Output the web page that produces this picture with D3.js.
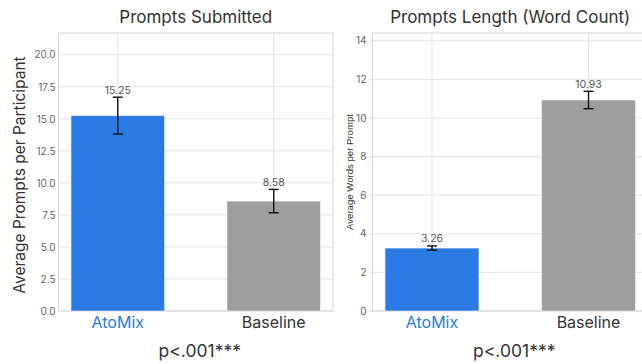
<!DOCTYPE html>
<html>
<head>
<meta charset="utf-8">
<script src="https://cdn.jsdelivr.net/npm/d3@7"></script>
<style>
  body { margin: 0; background: #fff; }
  svg { display: block; font-family: Inter, "Open Sans", sans-serif; }
</style>
</head>
<body>
<svg id="chart" width="642" height="364"></svg>
<script>
const groups = ["AtoMix", "Baseline"]
const groupColors = ["#2c7be5", "#9e9e9e"]
const labelColors = ["#2c7be5", "#333333"]

const promptsMean = [15.25, 8.58]
const promptsErr = [1.44, 0.91]
const promptsTicks = [0, 2.5, 5, 7.5, 10, 12.5, 15, 17.5, 20]

const lengthMean = [3.26, 10.93]
const lengthErr = [0.11, 0.45]
const lengthTicks = [0, 2, 4, 6, 8, 10, 12, 14]

const panels = [
  {
    title: "Prompts Submitted",
    yTitle: "Average Prompts per Participant",
    yTitleSize: 15.5, yTitleFont: "Inter, sans-serif", yTitleX: 19, yTitleShift: 3,
    mean: promptsMean, err: promptsErr, ticks: promptsTicks, yMax: 21.7,
    fmt: d3.format(".1f"), tickLen: 0,
    x0: 58.5, x1: 333, pvalue: "p<.001***"
  },
  {
    title: "Prompts Length (Word Count)",
    yTitle: "Average Words per Prompt",
    yTitleSize: 9.6, yTitleFont: "'Liberation Sans', Arial, sans-serif", yTitleX: 349, yTitleShift: 0,
    mean: lengthMean, err: lengthErr, ticks: lengthTicks, yMax: 14.4,
    fmt: d3.format("d"), tickLen: 3,
    x0: 372.5, x1: 648, pvalue: "p<.001***"
  }
]

const plotTop = 33, plotBottom = 311
const svg = d3.select("#chart")

panels.forEach(p => {
  const g = svg.append("g")

  const x = d3.scaleBand()
    .domain(groups)
    .range([p.x0, p.x1])
    .paddingInner(0.4)
    .paddingOuter(0.08)

  const y = d3.scaleLinear()
    .domain([0, p.yMax])
    .range([plotBottom, plotTop])

  // grid
  g.append("g")
    .selectAll("line")
    .data(p.ticks)
    .join("line")
    .attr("x1", p.x0).attr("x2", p.x1)
    .attr("y1", d => y(d)).attr("y2", d => y(d))
    .attr("stroke", "#e3e3e3")
    .attr("stroke-width", 1)

  g.append("g")
    .selectAll("line")
    .data(groups)
    .join("line")
    .attr("x1", d => x(d) + x.bandwidth() / 2)
    .attr("x2", d => x(d) + x.bandwidth() / 2)
    .attr("y1", plotTop).attr("y2", plotBottom)
    .attr("stroke", "#e3e3e3")

  // frame
  g.append("rect")
    .attr("x", p.x0).attr("y", plotTop)
    .attr("width", p.x1 - p.x0).attr("height", plotBottom - plotTop)
    .attr("fill", "none")
    .attr("stroke", "#d6d6d6")

  // bars
  g.append("g")
    .selectAll("rect")
    .data(groups)
    .join("rect")
    .attr("x", d => x(d))
    .attr("y", (d, i) => y(p.mean[i]))
    .attr("width", x.bandwidth())
    .attr("height", (d, i) => y(0) - y(p.mean[i]))
    .attr("fill", (d, i) => groupColors[i])
    .attr("stroke", "#ffffff")
    .attr("stroke-opacity", 0.55)
    .attr("stroke-width", 1)

  // error bars
  const eb = g.append("g")
    .attr("stroke", "#111")
    .attr("stroke-width", 1.4)
  groups.forEach((d, i) => {
    const cx = x(d) + x.bandwidth() / 2
    const hi = y(p.mean[i] + p.err[i]), lo = y(p.mean[i] - p.err[i])
    eb.append("line").attr("x1", cx).attr("x2", cx).attr("y1", hi).attr("y2", lo)
    eb.append("line").attr("x1", cx - 5).attr("x2", cx + 5).attr("y1", hi).attr("y2", hi)
    eb.append("line").attr("x1", cx - 5).attr("x2", cx + 5).attr("y1", lo).attr("y2", lo)
  })

  // value labels
  g.append("g")
    .selectAll("text")
    .data(groups)
    .join("text")
    .attr("x", d => x(d) + x.bandwidth() / 2)
    .attr("y", (d, i) => y(p.mean[i] + p.err[i]) - 3.5)
    .attr("text-anchor", "middle")
    .attr("font-size", 10.5)
    .attr("fill", "#555")
    .text((d, i) => p.mean[i].toFixed(2))

  // y axis
  const yAxis = g.append("g")
    .attr("transform", `translate(${p.x0},0)`)
    .call(d3.axisLeft(y).tickValues(p.ticks).tickFormat(p.fmt)
      .tickSize(p.tickLen).tickPadding(3))
  yAxis.select(".domain").remove()
  yAxis.selectAll("line").attr("stroke", "#d6d6d6")
  yAxis.selectAll("text")
    .attr("font-family", "Inter, sans-serif")
    .attr("font-size", 10)
    .attr("fill", "#666")

  // x axis labels
  const xAxis = g.append("g")
    .attr("transform", `translate(0,${plotBottom})`)
    .call(d3.axisBottom(x).tickSize(0).tickPadding(6))
  xAxis.select(".domain").remove()
  xAxis.selectAll("text")
    .attr("font-family", "Inter, sans-serif")
    .attr("font-size", 16)
    .attr("fill", (d, i) => labelColors[i])

  // titles
  const cx = (p.x0 + p.x1) / 2
  g.append("text")
    .attr("x", cx).attr("y", 23)
    .attr("text-anchor", "middle")
    .attr("font-size", 17)
    .attr("fill", "#333")
    .text(p.title)

  g.append("text")
    .attr("x", cx + 4).attr("y", 357)
    .attr("text-anchor", "middle")
    .attr("font-size", 17.5)
    .attr("fill", "#333")
    .text(p.pvalue)

  g.append("text")
    .attr("transform", `translate(${p.yTitleX},${(plotTop + plotBottom) / 2 + p.yTitleShift}) rotate(-90)`)
    .attr("text-anchor", "middle")
    .attr("dominant-baseline", "central")
    .attr("font-family", p.yTitleFont)
    .attr("font-size", p.yTitleSize)
    .attr("fill", "#333")
    .text(p.yTitle)
})
</script>
</body>
</html>
